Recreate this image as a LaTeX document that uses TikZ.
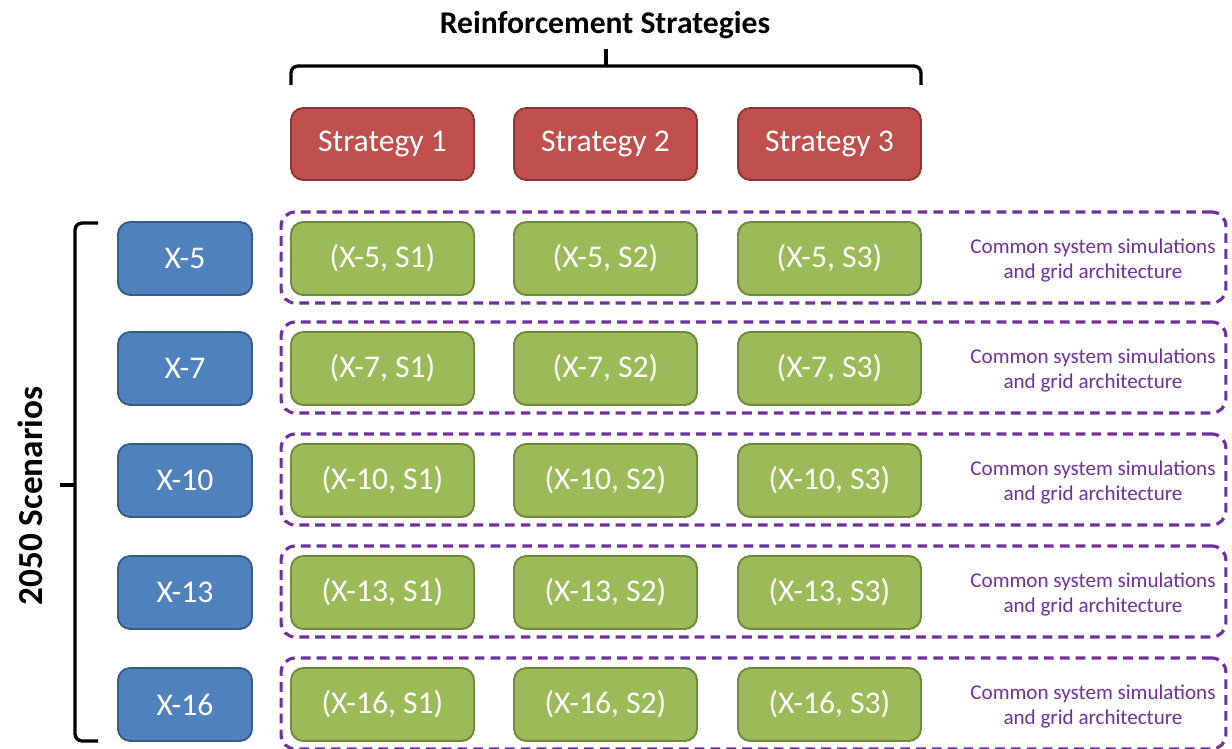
\documentclass[tikz,border=0pt]{standalone}
\usepackage{fontspec}
\setmainfont{Carlito}
\definecolor{stratred}{HTML}{C0504D}
\definecolor{stratredline}{HTML}{8C3836}
\definecolor{scenblue}{HTML}{4F81BD}
\definecolor{scenblueline}{HTML}{385D8A}
\definecolor{combogreen}{HTML}{9BBB59}
\definecolor{combogreenline}{HTML}{71893F}
\definecolor{grouppurple}{HTML}{7030A0}
\begin{document}
\begin{tikzpicture}[x=0.02cm, y=0.02cm,
  box/.style={rounded corners=7pt, line width=1.1pt, inner sep=0pt,
    minimum width=3.66cm, minimum height=1.44cm, text=white,
    font=\fontsize{18}{21}\selectfont},
  strat/.style={box, fill=stratred, draw=stratredline},
  scen/.style={box, fill=scenblue, draw=scenblueline, minimum width=2.68cm, minimum height=1.46cm},
  combo/.style={box, fill=combogreen, draw=combogreenline, minimum height=1.46cm},
  group/.style={draw=grouppurple, dash pattern=on 5.5pt off 3.5pt, line width=1.8pt,
    rounded corners=8pt, minimum width=18.9cm, minimum height=1.82cm},
  note/.style={text=grouppurple, align=center, font=\fontsize{12}{14.5}\selectfont},
  brace/.style={line width=1.9pt, rounded corners=4pt}]
\useasboundingbox (0,0) rectangle (1232,-749);
% strategies along the top
\node[font=\bfseries\fontsize{18}{21}\selectfont] (title) at (605,-25) {Reinforcement Strategies};
\node[strat] (s1) at (382.5,-144) {Strategy 1};
\node[strat] (s2) at (605.5,-144) {Strategy 2};
\node[strat] (s3) at (829.5,-144) {Strategy 3};
\coordinate (tbl) at (291,-85);
\coordinate (tbm) at (606,-66);
\coordinate (tbr) at (921,-85);
\coordinate (tbt) at (606,-49);
\draw[brace] (tbl) |- (tbm) -| (tbr);
\draw[brace] (tbm) -- (tbt);
% one row per scenario
\foreach \lab/\y in {5/258.5, 7/368.5, 10/480.5, 13/592.5, 16/704.5} {
  \node[group] (g\lab) at (753.5,-\y+1) {};
  \node[scen] (x\lab) at (185,-\y) {X-\lab};
  \node[combo] (c\lab s1) at (382.5,-\y) {(X-\lab, S1)};
  \node[combo] (c\lab s2) at (605.5,-\y) {(X-\lab, S2)};
  \node[combo] (c\lab s3) at (829.5,-\y) {(X-\lab, S3)};
  \node[note] (n\lab) at (1093,-\y-2) {Common system simulations\\and grid architecture};
}
% scenarios brace
\coordinate (lbt) at (98,-223);
\coordinate (lbm) at (75,-485);
\coordinate (lbb) at (98,-741);
\coordinate (lbk) at (60,-485);
\draw[brace] (lbt) -| (lbm) |- (lbb);
\draw[brace] (lbm) -- (lbk);
\node[rotate=90, font=\bfseries\fontsize{20}{24}\selectfont] (scenlabel) at (30,-496) {2050 Scenarios};
\end{tikzpicture}
\end{document}
